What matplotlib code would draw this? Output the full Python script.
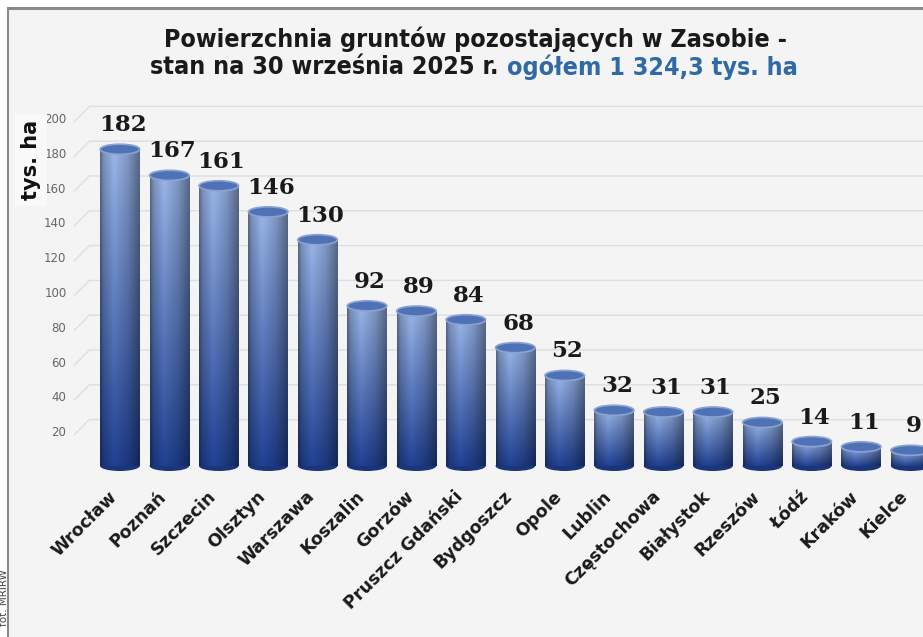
import numpy as np
import matplotlib
matplotlib.use("Agg")
import matplotlib.pyplot as plt
from matplotlib.patches import Rectangle, Ellipse
from matplotlib.lines import Line2D
from matplotlib.colors import to_rgb
from matplotlib.transforms import ScaledTranslation

# ---------------- data ----------------
categories = ["Wrocław", "Poznań", "Szczecin", "Olsztyn", "Warszawa", "Koszalin",
              "Gorzów", "Pruszcz Gdański", "Bydgoszcz", "Opole", "Lublin",
              "Częstochowa", "Białystok", "Rzeszów", "Łódź", "Kraków", "Kielce"]
values = [182, 167, 161, 146, 130, 92, 89, 84, 68, 52, 32, 31, 31, 25, 14, 11, 9]
yticks = [20, 40, 60, 80, 100, 120, 140, 160, 180, 200]
title_line1 = "Powierzchnia gruntów pozostających w Zasobie -"
title_line2a = "stan na 30 września 2025 r. "
title_line2b = "ogółem 1 324,3 tys. ha"
y_label = "tys. ha"
source = "fot. MRiRW"

W, H = 923, 637
fig = plt.figure(figsize=(W / 100, H / 100), dpi=100, facecolor="white")

def fx(px):
    return px / W

def fy(py):
    return 1 - py / H

# frame background and border
fig.add_artist(Rectangle((fx(8), 0), 1 - fx(8), fy(8), transform=fig.transFigure,
                         facecolor="#f4f4f4", edgecolor="none", zorder=0))
fig.add_artist(Line2D([fx(8), 1], [fy(8), fy(8)], transform=fig.transFigure,
                      color="#8a8a8a", lw=2.2, zorder=1))
fig.add_artist(Line2D([fx(8), fx(8)], [0, fy(8)], transform=fig.transFigure,
                      color="#8a8a8a", lw=1.5, zorder=1))

# axes
ylo, yhi = -6, 225
ax = fig.add_axes([fx(72), 1 - 476.4 / H, 1 - fx(72), 402 / H])
ax.set_facecolor("none")
for s in ax.spines.values():
    s.set_visible(False)

n = len(values)
x = np.arange(n)
xlo, xhi = -0.97, 16.25
bw = 0.80

# gridlines (back wall, 3D offset)
off_y = 15 / 1.74
off_x = 0.3
for t in yticks:
    ax.plot([xlo + 0.05, xlo + 0.05 + off_x, xhi], [t - 2, t - 2 + off_y, t - 2 + off_y],
            color="#dedede", lw=1.0, zorder=1)

# cylinder bars
bot_col = np.array(to_rgb("#1e3d8a"))
top_col = np.array(to_rgb("#8fa9d8"))
nx, ny = 60, 200
xs = np.linspace(0, 1, nx)
shade = np.interp(xs, [0, 0.08, 0.35, 0.7, 1.0], [0.62, 0.85, 1.08, 0.9, 0.62])
ell_h = 5.8
for xi, v in zip(x, values):
    ts = np.linspace(0, 1, ny)[:, None]
    base = bot_col[None, :] * (1 - ts) + top_col[None, :] * ts  # ny x 3
    img = np.clip(base[:, None, :] * shade[None, :, None], 0, 1)
    be = Ellipse((xi, 0), bw, ell_h, facecolor="#1a3578", edgecolor="none", zorder=2)
    ax.add_patch(be)
    rect = Rectangle((xi - bw / 2, 0), bw, v, facecolor="none", edgecolor="none")
    ax.add_patch(rect)
    im = ax.imshow(img, extent=[xi - bw / 2, xi + bw / 2, 0, v], origin="lower",
                   aspect="auto", zorder=3, interpolation="bilinear")
    im.set_clip_path(rect)
    te = Ellipse((xi, v), bw, ell_h, facecolor="#4f72b6", edgecolor="#8aa3d3",
                 lw=1.2, zorder=4)
    ax.add_patch(te)
    ax.annotate(str(v), (xi, v), xytext=(2, 13), textcoords="offset points",
                ha="center", va="baseline", fontsize=16.5, fontweight="bold",
                family="DejaVu Serif", color="#1a1a1a", zorder=6)

ax.set_xlim(xlo, xhi)
ax.set_ylim(ylo, yhi)
ax.set_yticks(yticks)
ax.set_yticklabels([str(t) for t in yticks], fontsize=8.5, color="#666666")
ax.tick_params(axis="y", length=0, pad=4)
ax.set_xticks(x)
ax.set_xticklabels(categories, rotation=45, ha="right", va="top",
                   rotation_mode="anchor", fontsize=12.5, fontweight="bold",
                   color="#1a1a1a")
ax.tick_params(axis="x", length=0, pad=8)
shift = ScaledTranslation(-12 / 100, 0, fig.dpi_scale_trans)
for lab in ax.get_xticklabels():
    lab.set_transform(lab.get_transform() + shift)

# y label
fig.text(fx(31), fy(160), y_label, rotation=90, ha="center", va="center",
         fontsize=15, fontweight="bold", color="#111111",
         bbox=dict(facecolor="#f9f9f9", edgecolor="none", pad=4))

# source
fig.text(fx(4.5), fy(598), source, rotation=90, ha="center", va="center",
         fontsize=7.5, color="#444444")

# title
tkw = dict(fontsize=18, fontweight="bold", fontstretch="condensed")
t1 = fig.text(fx(475), fy(39), title_line1, ha="center", va="center",
              color="#1a1a1a", **tkw)
t2a = fig.text(0, fy(67), title_line2a, ha="left", va="center",
               color="#1a1a1a", **tkw)
t2b = fig.text(0, fy(67), title_line2b, ha="left", va="center",
               color="#2f6aa6", **tkw)
fig.canvas.draw()
r = fig.canvas.get_renderer()
wa = t2a.get_window_extent(r).width
wb = t2b.get_window_extent(r).width
start = 474 - (wa + wb) / 2
t2a.set_x(fx(start))
t2b.set_x(fx(start + wa))

fig.savefig("out.png", dpi=100, facecolor="white")
